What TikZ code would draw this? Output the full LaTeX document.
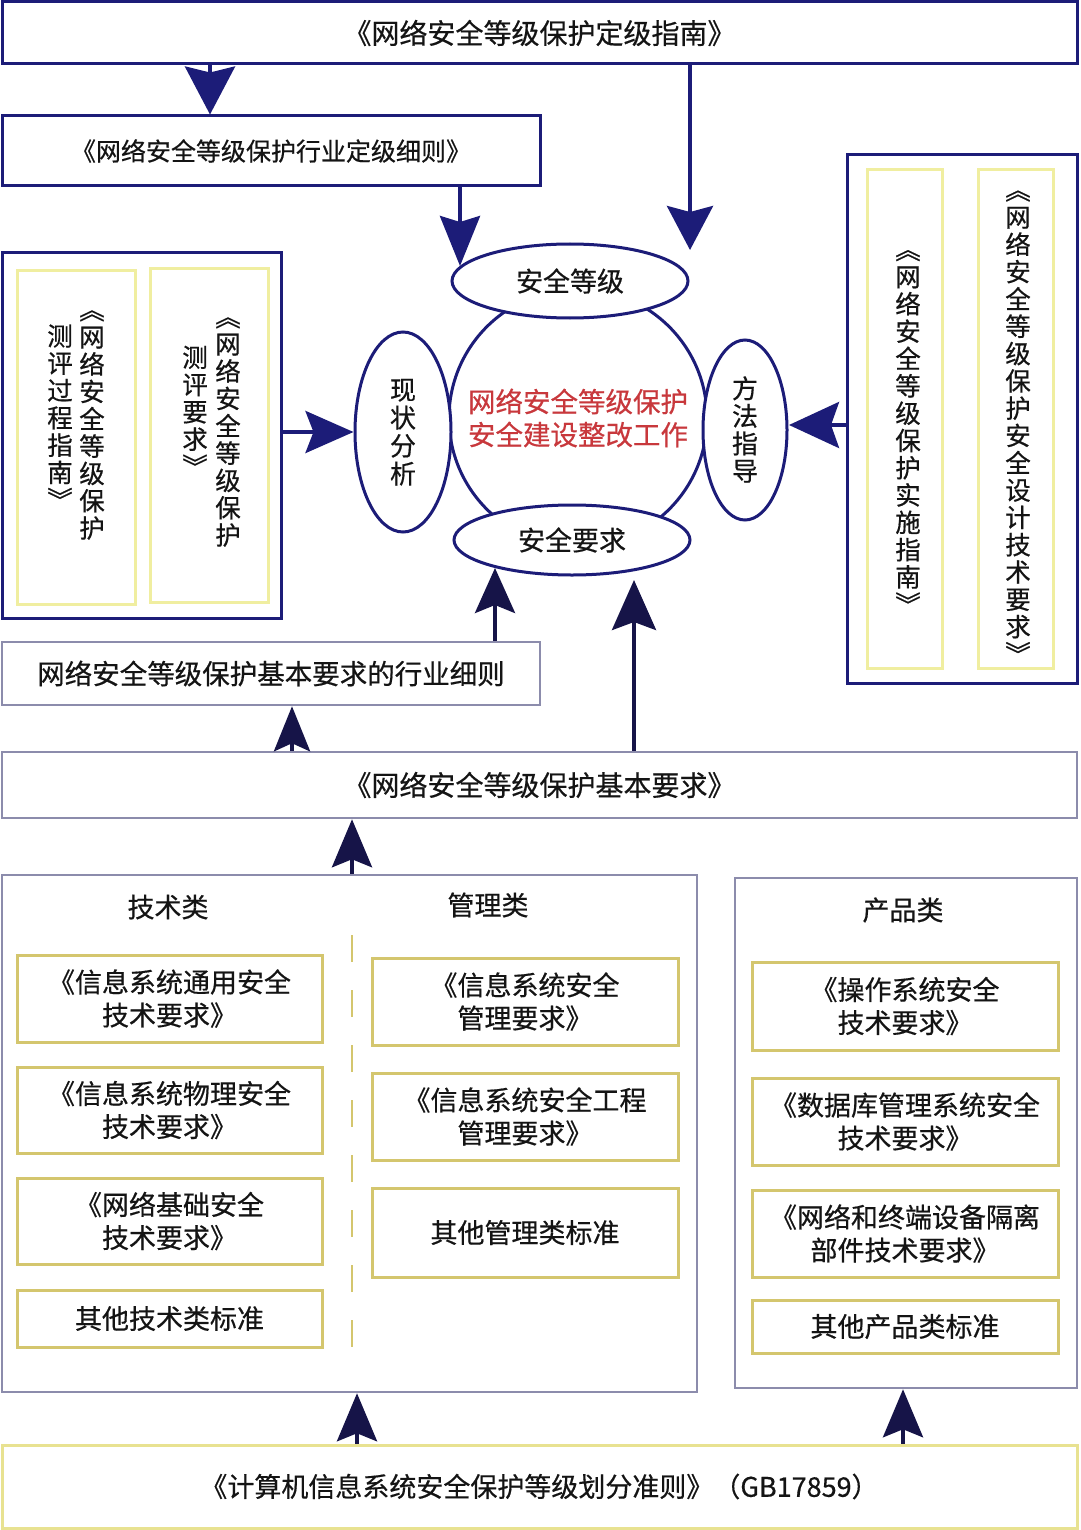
\documentclass[tikz,border=0pt]{standalone}
\usepackage{fontspec}
\setmainfont{Noto Sans CJK SC}[FakeBold=0.5]
\usetikzlibrary{arrows.meta,shapes.geometric}
\definecolor{navy}{RGB}{28,28,120}
\definecolor{dnavy}{RGB}{22,20,72}
\definecolor{greyb}{RGB}{140,140,172}
\definecolor{khaki}{RGB}{212,198,110}
\definecolor{paley}{RGB}{240,238,160}
\definecolor{redt}{RGB}{200,56,60}
\definecolor{txt}{RGB}{20,20,20}
\newcommand\myvstrA{\rule{0pt}{22pt}}
\newcommand\myvstrB{\rule[-3pt]{0pt}{3pt}}
\begin{document}
\begin{tikzpicture}[x=1pt,y=-1pt,
  every node/.style={text=txt, inner sep=0pt, font=\fontsize{27}{33}\selectfont},
  navybox/.style={draw=navy, line width=3pt, fill=white, rectangle},
  greybox/.style={draw=greyb, line width=2.5pt, fill=white, rectangle},
  itembox/.style={draw=khaki, line width=3pt, fill=white, rectangle, align=center},
  palebox/.style={draw=paley, line width=3pt, rectangle},
  ell/.style={draw=navy, line width=3pt, fill=white, ellipse, align=center},
  vcol/.style={align=center, font=\fontsize{25.5}{27.3}\selectfont},
  arrA/.style={draw=navy, line width=4pt, -{Stealth[length=#1]}},
  arrB/.style={draw=dnavy, line width=4pt, -{Stealth[length=#1]}},
  dashline/.style={draw=khaki, line width=2.5pt, dash pattern=on 27pt off 28pt},
]
\fill[white] (0,0) rectangle (1080,1530);
\useasboundingbox (0,0) rectangle (1080,1530);

% top boxes
\node[navybox, minimum width=1075pt, minimum height=62pt, font=\fontsize{28}{33}\selectfont] (top) at (539.5,33) {《网络安全等级保护定级指南》};
\node[navybox, minimum width=538pt, minimum height=70pt, font=\fontsize{25}{30}\selectfont] (box2) at (271,151) {《网络安全等级保护行业定级细则》};

% left group
\node[navybox, minimum width=279pt, minimum height=365pt] (lg) at (141.5,435.5) {};
\node[palebox, minimum width=118pt, minimum height=334pt] (lin1) at (76,437) {};
\node[palebox, minimum width=118pt, minimum height=334pt] (lin2) at (209,435) {};
\node[vcol] (l1a) at (92,419) {\myvstrA{}︽\\网\\络\\安\\全\\等\\级\\保\\护\myvstrB{}};
\node[vcol] (l1b) at (60,418) {\myvstrA{}测\\评\\过\\程\\指\\南\\︾\myvstrB{}};
\node[vcol] (l2a) at (228,426) {\myvstrA{}︽\\网\\络\\安\\全\\等\\级\\保\\护\myvstrB{}};
\node[vcol] (l2b) at (195,412) {\myvstrA{}测\\评\\要\\求\\︾\myvstrB{}};

% right group
\node[navybox, minimum width=230pt, minimum height=528pt] (rg) at (962,419) {};
\node[palebox, minimum width=75pt, minimum height=498pt] (rin1) at (904.5,419) {};
\node[palebox, minimum width=75pt, minimum height=498pt] (rin2) at (1015.5,419) {};
\node[vcol] (r1) at (908,427) {\myvstrA{}︽\\网\\络\\安\\全\\等\\级\\保\\护\\实\\施\\指\\南\\︾\myvstrB{}};
\node[vcol] (r2) at (1018,422) {\myvstrA{}︽\\网\\络\\安\\全\\等\\级\\保\\护\\安\\全\\设\\计\\技\\术\\要\\求\\︾\myvstrB{}};

% centre
\node[draw=navy, line width=3pt, circle, minimum size=258pt, align=center, text=redt, font=\fontsize{27.5}{33}\selectfont] (core) at (578,418) {网络安全等级保护\\安全建设整改工作};
\node[ell, minimum width=236pt, minimum height=74pt] (dj) at (570,281) {安全等级};
\node[ell, minimum width=236pt, minimum height=70pt] (yq) at (572,540) {安全要求};
\node[ell, minimum width=96pt, minimum height=200pt, font=\fontsize{26}{28}\selectfont] (xz) at (403,432) {\myvstrA{}现\\状\\分\\析\myvstrB{}};
\node[ell, minimum width=84pt, minimum height=180pt, font=\fontsize{26}{27.5}\selectfont] (ff) at (745,430) {\myvstrA{}方\\法\\指\\导\myvstrB{}};

% middle boxes
\node[greybox, minimum width=538pt, minimum height=63pt, font=\fontsize{27.5}{33}\selectfont] (hy) at (271,673.5) {网络安全等级保护基本要求的行业细则};
\node[greybox, minimum width=1075pt, minimum height=66pt, font=\fontsize{28}{33}\selectfont] (jb) at (539.5,785) {《网络安全等级保护基本要求》};

% technical / management group
\node[greybox, minimum width=695pt, minimum height=517pt] (tm) at (349.5,1133.5) {};
\node (hj) at (168,907) {技术类};
\node (hg) at (488,905) {管理类};
\node[itembox, minimum width=305pt, minimum height=87pt] (t1) at (169.5,998.5) {《信息系统通用安全\\技术要求》};
\node[itembox, minimum width=305pt, minimum height=86pt] (t2) at (169.5,1110) {《信息系统物理安全\\技术要求》};
\node[itembox, minimum width=305pt, minimum height=86pt] (t3) at (169.5,1221) {《网络基础安全\\技术要求》};
\node[itembox, minimum width=305pt, minimum height=57pt] (t4) at (169.5,1318.5) {其他技术类标准};
\node[itembox, minimum width=306pt, minimum height=87pt] (m1) at (525,1001.5) {《信息系统安全\\管理要求》};
\node[itembox, minimum width=306pt, minimum height=87pt] (m2) at (525,1116.5) {《信息系统安全工程\\管理要求》};
\node[itembox, minimum width=306pt, minimum height=89pt] (m3) at (525,1232.5) {其他管理类标准};
\coordinate (dA) at (352,935);
\coordinate (dB) at (352,1350);
\draw[dashline] (dA) -- (dB);

% product group
\node[greybox, minimum width=342pt, minimum height=510pt] (pg) at (906,1133) {};
\node (hp) at (903,910) {产品类};
\node[itembox, minimum width=306pt, minimum height=88pt] (p1) at (905,1006) {《操作系统安全\\技术要求》};
\node[itembox, minimum width=306pt, minimum height=87pt] (p2) at (905,1121.5) {《数据库管理系统安全\\技术要求》};
\node[itembox, minimum width=306pt, minimum height=87pt] (p3) at (905,1233.5) {《网络和终端设备隔离\\部件技术要求》};
\node[itembox, minimum width=306pt, minimum height=53pt] (p4) at (905,1326.5) {其他产品类标准};

% bottom box
\node[itembox, draw=paley!70!khaki, minimum width=1075pt, minimum height=83pt] (bt) at (539.5,1486.5) {《计算机信息系统安全保护等级划分准则》（GB17859）};

% connectors
\coordinate (ca1) at (210,0);
\coordinate (ca2) at (460,266);
\coordinate (ca3) at (690,250);
\coordinate (ca5) at (789,425);
\coordinate (ca6) at (495,568);
\coordinate (ca7) at (634,580);
\coordinate (ca8) at (292,0);
\coordinate (ca9) at (352,0);
\coordinate (ca10) at (357,0);
\coordinate (ca11) at (903,0);
\draw[arrA={48pt,width=50pt,inset=6pt}] (top.south -| ca1) -- (box2.north -| ca1);
\draw[arrA={50pt,width=40pt,inset=6pt}] (box2.south -| ca2) -- (ca2);
\draw[arrA={44pt,width=46pt,inset=6pt}] (top.south -| ca3) -- (ca3);
\draw[arrA={48pt,width=42pt,inset=8pt}] (lg.east |- xz.west) -- (xz.west);
\draw[arrA={50pt,width=46pt,inset=8pt}] (rg.west |- ca5) -- (ca5);
\draw[arrB={45pt,width=40pt,inset=8pt}] (hy.north -| ca6) -- (ca6);
\draw[arrB={50pt,width=44pt,inset=8pt}] (jb.north -| ca7) -- (ca7);
\draw[arrB={45pt,width=36pt,inset=8pt}] (jb.north -| ca8) -- (hy.south -| ca8);
\draw[arrB={48pt,width=40pt,inset=8pt}] (tm.north -| ca9) -- (jb.south -| ca9);
\draw[arrB={48pt,width=40pt,inset=8pt}] (bt.north -| ca10) -- (tm.south -| ca10);
\draw[arrB={48pt,width=40pt,inset=8pt}] (bt.north -| ca11) -- (pg.south -| ca11);
\end{tikzpicture}
\end{document}
